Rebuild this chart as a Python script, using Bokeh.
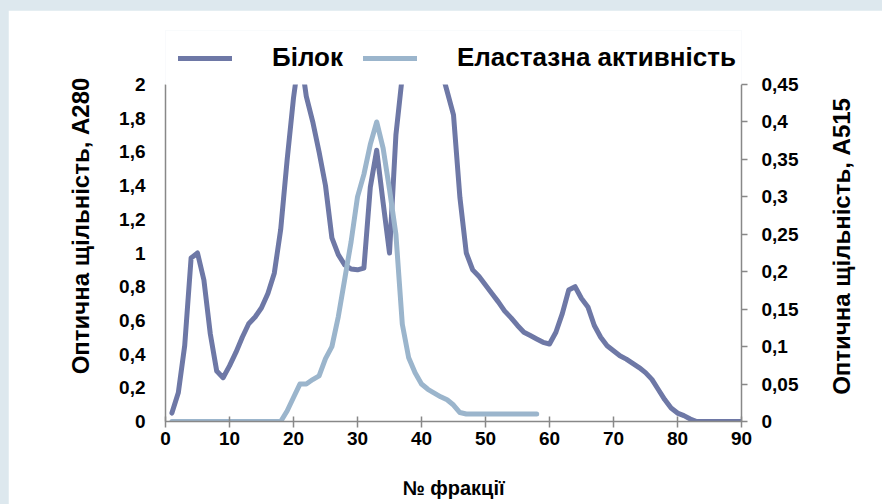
import math
from bokeh.plotting import figure
from bokeh.models import (Range1d, LinearAxis, FixedTicker, Legend, LegendItem,
                          ColumnDataSource, GlobalInlineStyleSheet, BoxAnnotation)
from bokeh.embed import file_html
from bokeh.resources import INLINE

# ---- data (values above 2 are off the chart) ----
fractions_protein = list(range(1, 91))
protein_a280 = [
    0.05, 0.17, 0.45, 0.97, 1.00, 0.84, 0.52, 0.30, 0.26, 0.33,
    0.41, 0.50, 0.58, 0.62, 0.675, 0.76, 0.88, 1.14, 1.55, 1.92,
    2.20, 1.93, 1.78, 1.60, 1.40, 1.09, 0.99, 0.93, 0.905, 0.90,
    0.91, 1.39, 1.61, 1.30, 1.00, 1.70, 2.05, 2.20, 2.25, 2.25,
    2.25, 2.20, 2.10, 1.96, 1.82, 1.33, 1.00, 0.90, 0.86, 0.81,
    0.76, 0.71, 0.655, 0.615, 0.57, 0.53, 0.51, 0.49, 0.47, 0.46,
    0.53, 0.64, 0.78, 0.80, 0.73, 0.68, 0.57, 0.50, 0.45, 0.42,
    0.39, 0.37, 0.345, 0.32, 0.29, 0.25, 0.19, 0.13, 0.08, 0.05,
    0.035, 0.015, 0.0, 0.0, 0.0, 0.0, 0.0, 0.0, 0.0, 0.0,
]

fractions_elastase = list(range(1, 59))
elastase_a515 = [
    0, 0, 0, 0, 0, 0, 0, 0, 0, 0,
    0, 0, 0, 0, 0, 0, 0, 0, 0.014, 0.032,
    0.05, 0.05, 0.056, 0.061, 0.084, 0.10, 0.14, 0.19, 0.24, 0.30,
    0.33, 0.37, 0.40, 0.365, 0.31, 0.25, 0.13, 0.085, 0.065, 0.05,
    0.043, 0.038, 0.033, 0.029, 0.022, 0.012, 0.01, 0.01, 0.01, 0.01,
    0.01, 0.01, 0.01, 0.01, 0.01, 0.01, 0.01, 0.01,
]

x_ticks = [0, 10, 20, 30, 40, 50, 60, 70, 80, 90]
left_ticks = [0, 0.2, 0.4, 0.6, 0.8, 1.0, 1.2, 1.4, 1.6, 1.8, 2.0]
left_tick_labels = ["0", "0,2", "0,4", "0,6", "0,8", "1", "1,2", "1,4", "1,6", "1,8", "2"]
right_ticks = [0, 0.05, 0.1, 0.15, 0.2, 0.25, 0.3, 0.35, 0.4, 0.45]
right_tick_labels = ["0", "0,05", "0,1", "0,15", "0,2", "0,25", "0,3", "0,35", "0,4", "0,45"]
left_max = 2.0
right_max = 0.45

series_names = ["Білок", "Еластазна активність"]
x_title = "№ фракції"
left_title = "Оптична щільність, А280"
right_title = "Оптична щільність, А515"

# ---- styling ----
DARK = "#6e78a6"
LIGHT = "#9bb5cc"
AXIS = "#888888"
FONT = "Liberation Sans"

# the frame is extended above the axes' top (0..2 / 0..0.45) to leave room for the legend
headroom = 391 / 337

p = figure(width=874, height=494,
           x_range=Range1d(0, 90), y_range=Range1d(0, left_max * headroom),
           output_backend="svg", toolbar_location=None,
           min_border_left=157, min_border_right=141,
           min_border_top=20, min_border_bottom=83,
           background_fill_color="white", border_fill_color="white",
           outline_line_color=None)
p.stylesheets = [GlobalInlineStyleSheet(
    css="html{margin:0;padding:0;} body{margin:10px 0 0 8px;padding:0;background:#dde8ee;overflow:hidden;}")]

p.extra_y_ranges = {"a515": Range1d(0, right_max * headroom)}
p.xgrid.visible = False
p.ygrid.visible = False

src_p = ColumnDataSource(dict(x=fractions_protein, y=protein_a280))
src_e = ColumnDataSource(dict(x=fractions_elastase, y=elastase_a515))

r1 = p.line("x", "y", source=src_p, line_color=DARK, line_width=5,
            line_join="round", line_cap="round")
r2 = p.line("x", "y", source=src_e, line_color=LIGHT, line_width=5,
            line_join="round", line_cap="round", y_range_name="a515")

# hide whatever lies above the axis maximum (the chart area ends at 2)
p.add_layout(BoxAnnotation(bottom=left_max, fill_color="white", fill_alpha=1.0,
                           line_color=None))

# x axis
xa = p.xaxis[0]
xa.ticker = FixedTicker(ticks=x_ticks)
xa.minor_tick_line_color = None
xa.major_tick_in = 5
xa.major_tick_out = 6
xa.axis_line_color = AXIS
xa.major_tick_line_color = AXIS
xa.axis_line_width = 1.5
xa.major_tick_line_width = 1.5
xa.major_label_text_font = FONT
xa.major_label_text_font_style = "bold"
xa.major_label_text_font_size = "19px"
xa.major_label_text_color = "black"
xa.major_label_standoff = 4
xa.axis_label = x_title
xa.axis_label_text_font = FONT
xa.axis_label_text_font_style = "bold"
xa.axis_label_text_font_size = "20px"
xa.axis_label_text_color = "black"
xa.axis_label_standoff = 29

# left axis
ya = p.yaxis[0]
ya.ticker = FixedTicker(ticks=left_ticks)
ya.bounds = (0, left_max)
ya.major_label_overrides = {t: l for t, l in zip(left_ticks, left_tick_labels)}
ya.minor_tick_line_color = None
ya.major_tick_in = 0
ya.major_tick_out = 0
ya.axis_line_color = AXIS
ya.axis_line_width = 1.5
ya.major_label_text_font = FONT
ya.major_label_text_font_style = "bold"
ya.major_label_text_font_size = "19px"
ya.major_label_text_color = "black"
ya.major_label_standoff = 20
ya.axis_label = left_title
ya.axis_label_text_font = FONT
ya.axis_label_text_font_style = "bold"
ya.axis_label_text_font_size = "24px"
ya.axis_label_text_color = "black"
ya.axis_label_standoff = 22

# right axis
ra = LinearAxis(y_range_name="a515", ticker=FixedTicker(ticks=right_ticks))
ra.bounds = (0, right_max)
ra.major_label_overrides = {t: l for t, l in zip(right_ticks, right_tick_labels)}
ra.minor_tick_line_color = None
ra.major_tick_in = 0
ra.major_tick_out = 6
ra.axis_line_color = AXIS
ra.major_tick_line_color = AXIS
ra.axis_line_width = 1.5
ra.major_tick_line_width = 1.5
ra.major_label_text_font = FONT
ra.major_label_text_font_style = "bold"
ra.major_label_text_font_size = "19px"
ra.major_label_text_color = "black"
ra.major_label_standoff = 14
ra.axis_label = "\u00a0" * 4 + right_title
ra.axis_label_text_font = FONT
ra.axis_label_text_font_style = "bold"
ra.axis_label_text_font_size = "24px"
ra.axis_label_text_color = "black"
ra.axis_label_standoff = 40
ra.axis_label_orientation = math.pi / 2
ra.axis_label_align = "start"
p.add_layout(ra, "right")

legend = Legend(items=[LegendItem(label=series_names[0], renderers=[r1]),
                       LegendItem(label=series_names[1], renderers=[r2])],
                orientation="horizontal", location=(13, 348),
                glyph_width=54, glyph_height=20, label_standoff=40, spacing=20,
                padding=0, margin=0, border_line_alpha=0, background_fill_alpha=0,
                label_text_font=FONT, label_text_font_style="bold",
                label_text_font_size="26px", label_text_color="black")
p.add_layout(legend)

open("out.html", "w").write(file_html(p, INLINE))
